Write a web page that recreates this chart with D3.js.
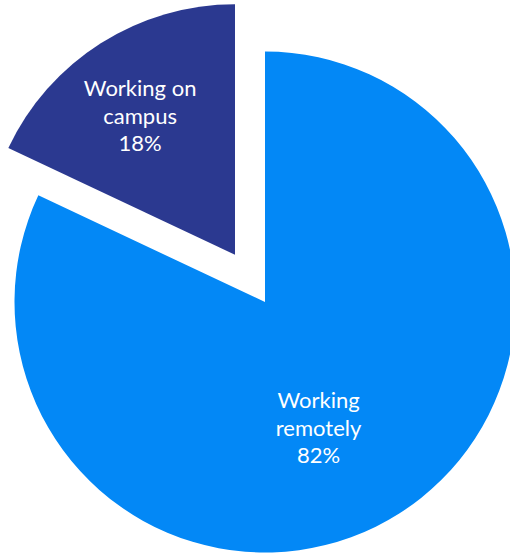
<!DOCTYPE html>
<html>
<head>
<meta charset="utf-8">
<script src="https://cdn.jsdelivr.net/npm/d3@7"></script>
<style>
  html, body { margin: 0; padding: 0; background: #fff; }
  svg { display: block; }
</style>
</head>
<body>
<svg id="chart" width="510" height="557"></svg>
<script>
// Share of staff by work location
const categories = ["Working on campus", "Working remotely"];
const labelLines = [["Working on", "campus"], ["Working", "remotely"]];
const values = [18, 82];
const colors = ["#2B3990", "#0388F6"];

const svg = d3.select("#chart");
const cx = 265, cy = 302, r = 250.5;
const explode = [56, 0];          // pull-out distance per slice
const labelPos = [                 // [angle (rad, clockwise from 12 o'clock), distance from slice apex]
  [-0.60, 168],
  [2.74, 137]
];

// Clockwise from 12 o'clock, the remote share first, the campus share closing the circle
const pie = d3.pie().sort(null).value(d => d.v)
  .startAngle(0).endAngle(2 * Math.PI);
const data = pie([
  { i: 1, v: values[1] },
  { i: 0, v: values[0] }
]);

const arc = d3.arc().innerRadius(0).outerRadius(r);

const g = svg.append("g").attr("transform", `translate(${cx},${cy})`);

const slices = g.selectAll("g.slice").data(data).enter().append("g")
  .attr("class", "slice")
  .attr("transform", d => {
    const mid = (d.startAngle + d.endAngle) / 2;
    const k = explode[d.data.i];
    return `translate(${k * Math.sin(mid)},${-k * Math.cos(mid)})`;
  });

slices.append("path")
  .attr("d", arc)
  .attr("fill", d => colors[d.data.i]);

slices.each(function (d) {
  const i = d.data.i;
  const [a, dist] = labelPos[i];
  const x = dist * Math.sin(a), y = -dist * Math.cos(a);
  const lines = labelLines[i].concat([values[i] + "%"]);
  const t = d3.select(this).append("text")
    .attr("x", x).attr("y", y)
    .attr("text-anchor", "middle")
    .attr("fill", "#fff")
    .style("font-family", "Lato, 'Open Sans', sans-serif")
    .style("font-size", "22px");
  lines.forEach((s, j) => {
    t.append("tspan").attr("x", x)
      .attr("dy", j === 0 ? (-(lines.length - 1) / 2 * 27.5 + 7.5) : 27.5)
      .text(s);
  });
});
</script>
</body>
</html>
